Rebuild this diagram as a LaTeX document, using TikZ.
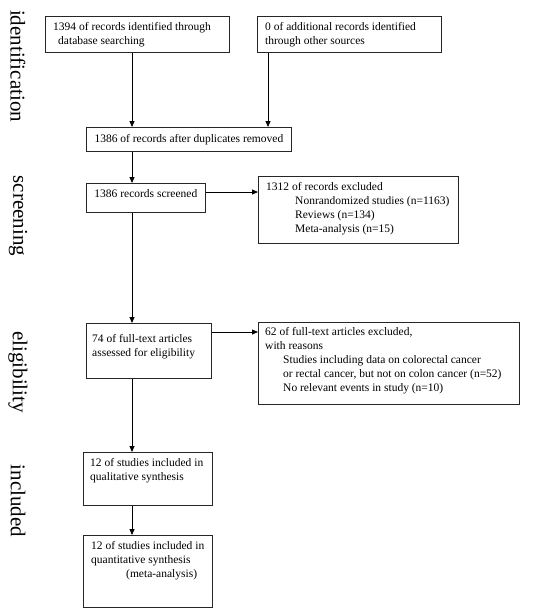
\documentclass[tikz,border=0pt]{standalone}
\usepackage{fontspec}
\setmainfont{Liberation Serif}
\usetikzlibrary{arrows.meta}
\begin{document}
\begin{tikzpicture}[x=1pt,y=-1pt,
  box/.style={draw=black!85,line width=0.8pt,rectangle,anchor=north west,inner sep=0pt},
  txt/.style={anchor=north west,inner sep=0pt,align=left,font=\fontsize{11.5}{14}\selectfont},
  side/.style={rotate=-90,inner sep=0pt,font=\fontsize{21}{24}\selectfont},
  arr/.style={line width=0.8pt,-{Triangle[length=6pt,width=5pt]}}]
\useasboundingbox (0,0) rectangle (534,611);
% boxes
\node[box,minimum width=184pt,minimum height=36pt] (b1) at (45,16) {};
\node[box,minimum width=184pt,minimum height=36pt] (b2) at (257,16) {};
\node[box,minimum width=205pt,minimum height=24pt] (b3) at (86,127) {};
\node[box,minimum width=119pt,minimum height=29pt] (b4) at (86,183) {};
\node[box,minimum width=200pt,minimum height=67pt] (b5) at (258,176) {};
\node[box,minimum width=125pt,minimum height=55pt] (b6) at (86,323) {};
\node[box,minimum width=261pt,minimum height=82pt] (b7) at (258,322) {};
\node[box,minimum width=129pt,minimum height=53pt] (b8) at (83,452) {};
\node[box,minimum width=129pt,minimum height=72pt] (b9) at (83,535) {};
% texts
\node[txt] (t1) at (53,22) {1394 of records identified through\\\hspace*{5pt}database searching};
\node[txt] (t2) at (265,22) {0 of additional records identified\\through other sources};
\node[inner sep=0pt,font=\fontsize{11.5}{14}\selectfont] (t3) at (b3.center) {1386 of records after duplicates removed};
\node[inner sep=0pt,font=\fontsize{11.5}{14}\selectfont] (t4) at ([yshift=4.5pt]b4.center) {1386 records screened};
\node[txt] (t5) at (266,182) {1312 of records excluded\\\hspace*{29pt}Nonrandomized studies (n=1163)\\\hspace*{29pt}Reviews (n=134)\\\hspace*{29pt}Meta-analysis (n=15)};
\node[txt] (t6) at (92,334) {74 of full-text articles\\assessed for eligibility};
\node[txt] (t7) at (265,327) {62 of full-text articles excluded,\\with reasons\\\hspace*{18pt}Studies including data on colorectal cancer\\\hspace*{18pt}or rectal cancer, but not on colon cancer (n=52)\\\hspace*{18pt}No relevant events in study (n=10)};
\node[txt] (t8) at (90,458) {12 of studies included in\\qualitative synthesis};
\node[txt] (t9) at (91,541) {12 of studies included in\\quantitative synthesis\\\hspace*{35pt}(meta-analysis)};
% side labels
\node[side] (s1) at (18,66) {identification};
\node[side] (s2) at (18,216) {screening};
\node[side] (s3) at (18,372) {eligibility};
\node[side] (s4) at (18,501) {included};
% helper coordinates
\coordinate (trunk) at (132,0);
\coordinate (c2) at (268,0);
\coordinate (r1) at (0,192);
\coordinate (r2) at (0,332);
% connectors
\draw[arr] (b1.south -| trunk) -- (b3.north -| trunk);
\draw[arr] (b2.south -| c2) -- (b3.north -| c2);
\draw[arr] (b3.south -| trunk) -- (b4.north -| trunk);
\draw[arr] (b4.east |- r1) -- (b5.west |- r1);
\draw[arr] (b4.south -| trunk) -- (b6.north -| trunk);
\draw[arr] (b6.east |- r2) -- (b7.west |- r2);
\draw[arr] (b6.south -| trunk) -- (b8.north -| trunk);
\draw[arr] (b8.south -| trunk) -- (b9.north -| trunk);
\end{tikzpicture}
\end{document}
